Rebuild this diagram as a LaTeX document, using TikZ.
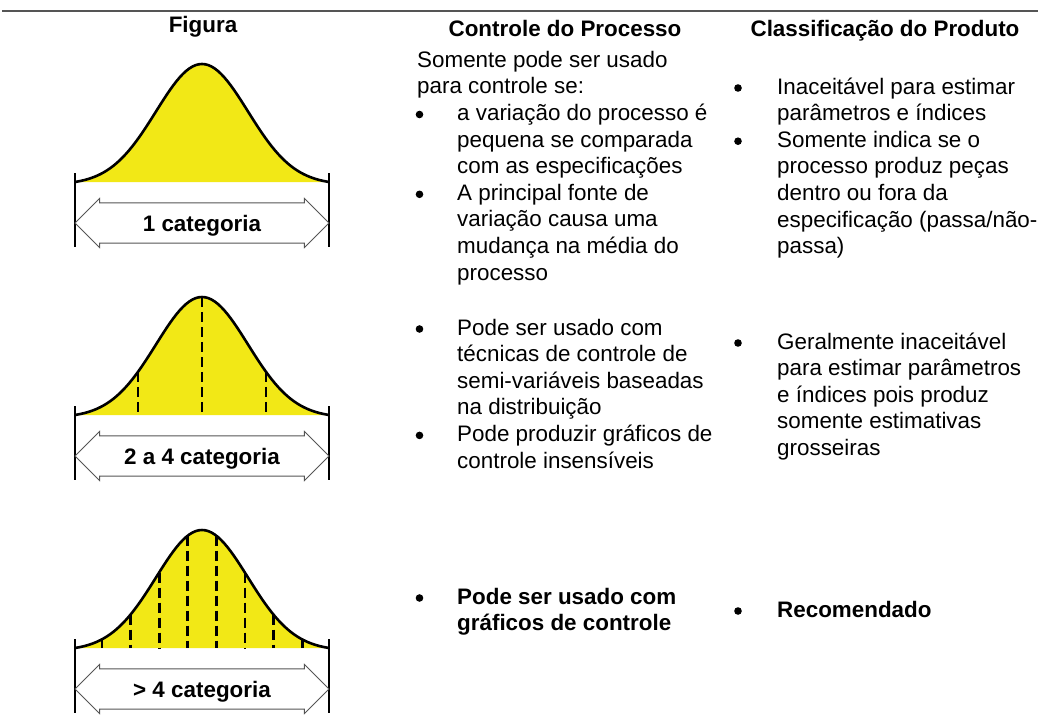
\documentclass[tikz,border=0pt]{standalone}
\usepackage{fontspec}
\setmainfont{Liberation Sans}
\usetikzlibrary{shapes.arrows}
\definecolor{sino}{RGB}{242,232,22}
\definecolor{cinza}{RGB}{85,85,85}

\begin{document}
\begin{tikzpicture}[x=1pt, y=-1pt,
      texto/.style ={anchor=base west, align=left, inner sep=0pt, font=\fontsize{22.4}{26.6}\selectfont},
      negrito/.style ={texto, font=\fontsize{22.4}{26.6}\selectfont\bfseries},
      cabec/.style ={anchor=base, inner sep=0pt, font=\fontsize{22.4}{26.6}\selectfont\bfseries},
      marca/.style ={circle, fill, inner sep=0pt, minimum size=7.6pt},
      seta/.style ={double arrow, draw=cinza, fill=white, line width=1pt, minimum height=254pt,
                    minimum width=48pt, double arrow head extend=4.5pt, inner xsep=2pt, inner ysep=11.4pt,
                    text depth=0pt, font=\fontsize{22.4}{26.6}\selectfont\bfseries},
      curva/.style ={line width=2.6pt},
      barra/.style ={line width=2pt},
      tracejado/.style ={line width=2.8pt, dash pattern=on 10pt off 5pt}]
   \useasboundingbox (0,0) rectangle (1038,717);
   \draw[cinza, line width=1.5pt] (2,11) -- (1038,11);

   \node[cabec] (hfig) at (203,33) {Figura};
   \node[cabec] (hproc) at (565,37) {Controle do Processo};
   \node[cabec] (hprod) at (885,37) {Classificação do Produto};

   \foreach \b/\lbl [count=\i] in {182/1 categoria, 415/2 a 4 categoria, 648/{> 4 categoria}} {
     \fill[sino] plot[domain=-127:127, samples=81] ({202+\x},{\b-118*(exp(-0.5*(\x/46)^2)-0.022)/0.978})
        -- (329,\b) -- (75,\b) -- cycle;
     \draw[curva] plot[domain=-127:127, samples=81] ({202+\x},{\b-118*(exp(-0.5*(\x/46)^2)-0.022)/0.978});
     \draw[barra] (75,\b-9) -- (75,\b+65);
     \draw[barra] (329,\b-9) -- (329,\b+65);
     \node[seta] (cat\i) at (202,\b+41) {\lbl};
   }

   \foreach \d in {-64,0,64}
     \draw[tracejado] ({202+\d},{415-118*(exp(-0.5*(\d/46)^2)-0.022)/0.978}) -- ({202+\d},415);
   \foreach \d in {-100.1,-71.5,-42.9,-14.3,14.3,42.9,71.5,100.1}
     \draw[tracejado] ({202+\d},{648-118*(exp(-0.5*(\d/46)^2)-0.022)/0.978}) -- ({202+\d},648);

   \node[texto] (p0) at (417,93.9) {Somente pode ser usado\\para controle se:};
   \node[marca] (m1) at (419.5,114.5) {};
   \node[texto] (p1) at (457,173.7) {a variação do processo é\\pequena se comparada\\com as especificações};
   \node[marca] (m2) at (419.5,194.3) {};
   \node[texto] (p2) at (457,280.1) {A principal fonte de\\variação causa uma\\mudança na média do\\processo};

   \node[marca] (m3) at (738,88) {};
   \node[texto] (c1) at (777,120.6) {Inaceitável para estimar\\parâmetros e índices};
   \node[marca] (m4) at (738,141.2) {};
   \node[texto] (c2) at (777,253.6) {Somente indica se o\\processo produz peças\\dentro ou fora da\\especificação (passa/não-\\passa)};

   \node[marca] (m5) at (419.5,329) {};
   \node[texto] (p3) at (457,414.8) {Pode ser usado com\\técnicas de controle de\\semi-variáveis baseadas\\na distribuição};
   \node[marca] (m6) at (419.5,435.4) {};
   \node[texto] (p4) at (457,468) {Pode produzir gráficos de\\controle insensíveis};

   \node[marca] (m7) at (738,343) {};
   \node[texto] (c3) at (777,455.4) {Geralmente inaceitável\\para estimar parâmetros\\e índices pois produz\\somente estimativas\\grosseiras};

   \node[marca] (m8) at (419.5,598) {};
   \node[negrito] (p5) at (457,630.6) {Pode ser usado com\\gráficos de controle};
   \node[marca] (m9) at (738,611) {};
   \node[negrito] (c4) at (777,617) {Recomendado};
 \end{tikzpicture}
\end{document}
